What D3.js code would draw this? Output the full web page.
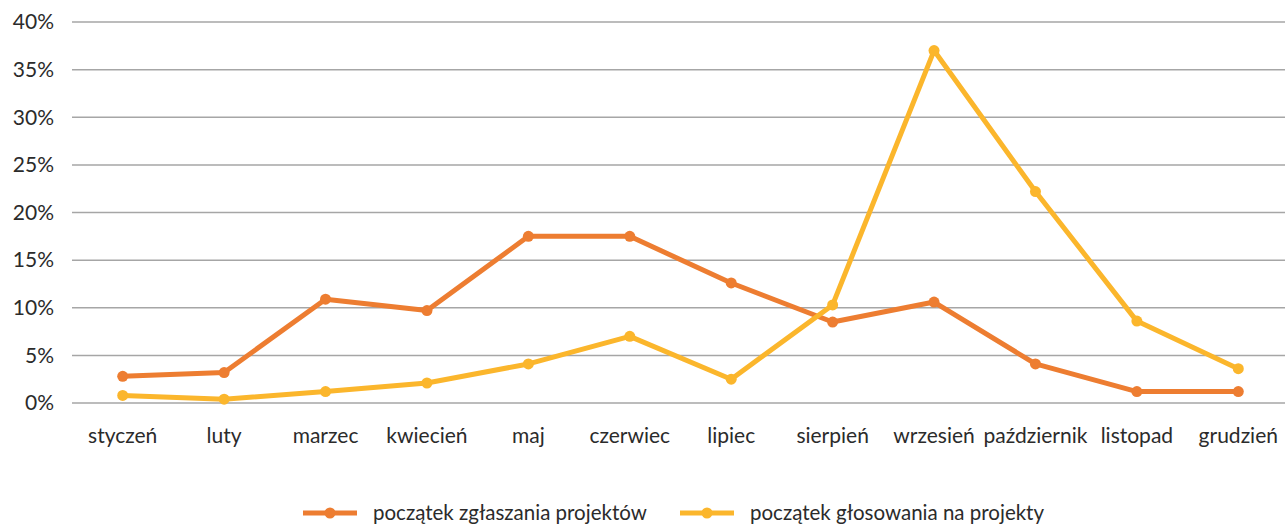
<!DOCTYPE html>
<html>
<head>
<meta charset="utf-8">
<script src="https://cdn.jsdelivr.net/npm/d3@7"></script>
<style>
body{margin:0;background:#fff;}
text{font-family:Lato,"Open Sans",sans-serif;fill:#2b2b2b;}
</style>
</head>
<body>
<script>
//Data
var months = ["styczeń","luty","marzec","kwiecień","maj","czerwiec","lipiec","sierpień","wrzesień","październik","listopad","grudzień"]
var zglaszanie = [2.8,3.2,10.9,9.7,17.5,17.5,12.6,8.5,10.6,4.1,1.2,1.2] //początek zgłaszania projektów
var glosowanie = [0.8,0.4,1.2,2.1,4.1,7.0,2.5,10.3,37.0,22.2,8.6,3.6] //początek głosowania na projekty
var yTicks = [0,5,10,15,20,25,30,35,40]
var seriesNames = ["początek zgłaszania projektów","początek głosowania na projekty"]
var seriesColors = ["#ED7D31","#FBB62C"]

var width = 1285, height = 526

var svg = d3.select("body").append("svg").attr("width",width).attr("height",height)

//Scales
var x = d3.scaleBand().domain(months).range([72,1289])
var y = d3.scaleLinear().domain([0,40]).range([403,22])

//Gridlines
svg.append("g").selectAll("line").data(yTicks).enter().append("line")
    .attr("x1",72).attr("x2",width)
    .attr("y1",function(d){return y(d)}).attr("y2",function(d){return y(d)})
    .attr("stroke","#a6a6a6").attr("stroke-width",1.5)

//Y axis labels
svg.append("g").selectAll("text").data(yTicks).enter().append("text")
    .attr("x",54).attr("y",function(d){return y(d)})
    .attr("dy","0.35em").attr("text-anchor","end")
    .style("font-size","21px")
    .text(function(d){return d+"%"})

//X axis labels
svg.append("g").selectAll("text").data(months).enter().append("text")
    .attr("x",function(d){return x(d)+x.bandwidth()/2})
    .attr("y",436).attr("dy","0.35em").attr("text-anchor","middle")
    .style("font-size","21px")
    .text(function(d){return d})

//Lines and markers
var line = d3.line()
    .x(function(d,i){return x(months[i])+x.bandwidth()/2})
    .y(function(d){return y(d)})

var allSeries = [zglaszanie,glosowanie]
allSeries.forEach(function(s,k){
    var g = svg.append("g")
    g.append("path").datum(s).attr("d",line)
        .attr("fill","none").attr("stroke",seriesColors[k])
        .attr("stroke-width",5).attr("stroke-linejoin","round")
    g.selectAll("circle").data(s).enter().append("circle")
        .attr("cx",function(d,i){return x(months[i])+x.bandwidth()/2})
        .attr("cy",function(d){return y(d)})
        .attr("r",5.5).attr("fill",seriesColors[k])
})

//Legend
var legendX = [303,680]
seriesNames.forEach(function(name,k){
    var lg = svg.append("g").attr("transform","translate("+legendX[k]+",513)")
    lg.append("line").attr("x1",0).attr("x2",54).attr("y1",0).attr("y2",0)
        .attr("stroke",seriesColors[k]).attr("stroke-width",5)
    lg.append("circle").attr("cx",27).attr("cy",0).attr("r",5.5).attr("fill",seriesColors[k])
    lg.append("text").attr("x",70).attr("y",0).attr("dy","0.35em")
        .style("font-size","20.5px").text(name)
})
</script>
</body>
</html>
